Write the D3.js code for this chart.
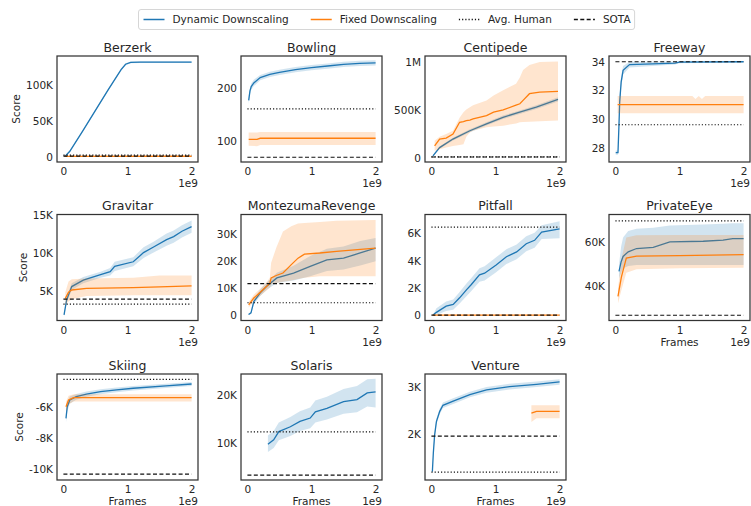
<!DOCTYPE html>
<html lang="en">
<head>
<meta charset="utf-8">
<title>Dynamic vs Fixed Downscaling</title>
<script src="https://cdn.jsdelivr.net/npm/d3@7"></script>
<style>
  body { margin: 0; background: #fff; }
  svg text { font-family: "DejaVu Sans", sans-serif; fill: #262626; }
  .frame { fill: none; stroke: #333; stroke-width: 1.25px; }
  .run-line { fill: none; stroke-width: 1.3px; }
  .ref-line { fill: none; stroke: #111; stroke-width: 1.2px; }
</style>
</head>
<body>
<svg id="chart" width="751" height="506"></svg>
<script>

// x in 1e9 frames, rows are [x, mean, low, high]
var berzerkDyn = [[0.02,500,0,1000],[0.1,8000,6500,9500],[0.3,36000,34500,37500],[0.5,65000,63500,66500],[0.7,94000,92500,95500],[0.9,122000,120500,123500],[0.97,129500,128000,131000],[1.05,132000,130800,133200],[1.2,132500,131300,133700],[2.0,132500,131300,133700]];
var berzerkFix = [[0.02,800,300,1300],[2.0,1000,500,1500]];

var bowlingDyn = [[0.02,177,170,184],[0.04,195,189,201],[0.06,203,197,209],[0.1,210,204,216],[0.2,220,215,225],[0.35,226,221,231],[0.5,230,225,235],[0.75,235,230,240],[1.0,239,234,244],[1.25,242,237,247],[1.5,245,240,250],[1.75,247,242,252],[2.0,248,243,253]];
var bowlingFix = [[0.02,103,91,116],[0.15,103,90,116],[0.2,105,92,117],[2.0,105,92,117]];

var centipedeDyn = [[0.024,21000,12000,30000],[0.128,108000,96000,120000],[0.336,197000,183000,211000],[0.6,284000,268000,300000],[0.86,355000,338000,372000],[1.117,424000,406000,442000],[1.377,477000,458000,496000],[1.637,530000,510000,550000],[1.975,610000,588000,632000]];
var centipedeFix = [[0.05,126000,74000,179000],[0.128,197000,90000,220000],[0.23,207000,110000,250000],[0.337,250000,126000,284000],[0.44,372000,135000,420000],[0.5,380000,144000,477000],[0.545,390000,220000,505000],[0.6,395000,266000,530000],[0.65,407000,285000,550000],[0.86,442000,319000,600000],[0.97,477000,328000,650000],[1.12,502000,337000,705000],[1.32,550000,360000,775000],[1.38,565000,372000,840000],[1.43,600000,375000,916000],[1.53,670000,378000,968000],[1.69,687000,382000,1000000],[1.975,695000,390000,1005000]];

var freewayDyn = [[0.005,27.65,27.5,27.8],[0.04,27.65,27.5,27.8],[0.055,29.5,29.0,30.0],[0.067,31.2,30.7,31.7],[0.09,32.6,32.2,33.0],[0.12,33.4,33.1,33.7],[0.22,33.8,33.6,34.0],[0.58,33.85,33.7,34.0],[0.93,33.9,33.8,34.0],[1.0,33.97,33.9,34.05],[2.0,34.0,33.95,34.05]];
var freewayFix = [[0.035,31.0,30.4,31.6],[1.2,31.0,30.4,31.6],[1.25,31.0,30.4,31.4],[1.3,31.0,30.4,31.6],[1.35,31.0,30.4,31.4],[1.4,31.0,30.4,31.6],[2.0,31.0,30.4,31.6]];

var gravitarDyn = [[0.01,1950,1700,2200],[0.05,3900,3500,4300],[0.13,5650,5200,6100],[0.31,6500,6100,6900],[0.58,7200,6800,7600],[0.73,7600,7100,8100],[0.8,8300,7700,8900],[1.09,8900,8300,9500],[1.25,10100,9400,10800],[1.4,10800,10100,11500],[1.61,11800,11000,12600],[1.72,12200,11400,13000],[1.85,12900,12100,13700],[2.0,13500,12700,14300]];
var gravitarFix = [[0.03,4100,3300,4900],[0.08,4900,3700,6300],[0.13,5200,4000,6600],[0.36,5400,4400,6700],[1.09,5500,4500,6800],[1.5,5600,4500,7100],[2.0,5750,4500,7100]];

var montezumaDyn = [[0.018,400,200,600],[0.056,1000,600,1400],[0.1,5200,4200,6200],[0.2,8400,7200,9600],[0.3,10800,9500,12100],[0.46,13900,12000,15800],[0.72,15700,13000,18400],[0.98,18200,14500,22000],[1.24,20600,16500,24700],[1.5,21200,17000,25500],[1.76,23100,18500,27500],[2.0,24900,20100,28600]];
var montezumaFix = [[0.02,4000,3000,5000],[0.1,6500,5300,7700],[0.2,8600,7300,9900],[0.3,10800,9300,12300],[0.35,12000,10300,14000],[0.37,13900,11500,19500],[0.45,14800,12000,25000],[0.555,15700,12500,31000],[0.685,18800,13000,33000],[0.79,21200,13500,34000],[0.89,22700,14000,34200],[1.13,23100,14500,34500],[1.39,23700,14500,35000],[2.0,24900,14500,35300]];

var pitfallDyn = [[0.025,0,0,0],[0.078,200,0,500],[0.23,660,300,1000],[0.34,780,400,1150],[0.44,1270,850,1700],[0.55,1870,1400,2350],[0.62,2230,1750,2700],[0.75,2960,2450,3450],[0.83,3080,2550,3600],[1.01,3690,3150,4250],[1.17,4290,3750,4850],[1.33,4650,4100,5200],[1.48,5250,4700,5800],[1.61,5500,4950,6050],[1.72,6100,5600,6600],[2.0,6350,5650,6900]];
var pitfallFix = [[0.02,0,0,0],[2.0,0,0,0]];

var privateEyeDyn = [[0.056,46600,43500,49800],[0.09,51000,46000,58000],[0.12,53400,48000,62000],[0.2,55500,49000,65000],[0.33,57000,49500,66000],[0.59,57500,49500,66500],[0.85,60000,49500,67500],[1.37,60300,49500,68000],[1.68,60800,49500,68300],[1.83,61500,49500,68500],[2.0,61500,49500,68500]];
var privateEyeFix = [[0.04,35200,32000,38500],[0.093,44000,38000,52000],[0.17,52600,46000,62000],[0.33,53500,47500,63000],[1.0,53800,48000,63200],[2.0,54200,48200,63200]];

var skiingDyn = [[0.04,-6740,-7000,-6400],[0.06,-6000,-6300,-5700],[0.1,-5570,-5800,-5350],[0.2,-5360,-5550,-5180],[0.36,-5200,-5370,-5030],[0.58,-5040,-5200,-4880],[0.83,-4930,-5080,-4780],[1.09,-4820,-4960,-4680],[1.6,-4670,-4800,-4540],[2.0,-4550,-4680,-4420]];
var skiingFix = [[0.04,-6000,-6300,-5700],[0.08,-5570,-5850,-5300],[0.16,-5420,-5670,-5200],[2.0,-5420,-5670,-5200]];

var solarisDyn = [[0.32,9800,8200,11600],[0.41,10700,9000,12500],[0.49,12400,10600,14300],[0.67,13400,11500,15400],[0.82,14500,12500,16600],[0.98,15200,13100,17400],[1.06,16500,14300,18800],[1.24,17200,14900,19600],[1.5,18600,16100,21200],[1.71,19000,16400,21800],[1.87,20400,17600,23200],[2.0,20600,17400,23300]];
var solarisFix = [];

var ventureDyn = [[0.015,1200,1150,1250],[0.03,1600,1550,1650],[0.05,1980,1920,2040],[0.078,2270,2210,2330],[0.13,2490,2430,2550],[0.18,2620,2560,2680],[0.34,2710,2650,2770],[0.6,2850,2790,2910],[0.86,2950,2890,3010],[1.22,3020,2960,3080],[1.64,3070,3010,3130],[2.0,3120,3060,3180]];
var ventureFix = [[1.56,2450,2260,2620],[1.64,2490,2340,2620],[2.0,2490,2340,2620]];

var gameNames = ["Berzerk","Bowling","Centipede","Freeway","Gravitar","MontezumaRevenge","Pitfall","PrivateEye","Skiing","Solaris","Venture"];
var dynamicRuns = [berzerkDyn, bowlingDyn, centipedeDyn, freewayDyn, gravitarDyn, montezumaDyn, pitfallDyn, privateEyeDyn, skiingDyn, solarisDyn, ventureDyn];
var fixedRuns = [berzerkFix, bowlingFix, centipedeFix, freewayFix, gravitarFix, montezumaFix, pitfallFix, privateEyeFix, skiingFix, solarisFix, ventureFix];
var humanScores = [2630, 160.7, 12017, 29.6, 3351, 4753, 6464, 69571, -4250, 12327, 1187.5];
var sotaScores = [1200, 69, 10000, 34.0, 4000, 11800, 0, 26600, -10300, 3400, 1960];
var yDomains = [[-7000,141000],[60,261],[-42000,1063000],[27.0,34.4],[1200,15100],[-1800,37300],[-400,7400],[24200,72500],[-10680,-3910],[2400,24300],[1020,3290]];
var yTicks = [[0,50000,100000],[100,200],[0,500000,1000000],[28,30,32,34],[5000,10000,15000],[0,10000,20000,30000],[0,2000,4000,6000],[40000,60000],[-10000,-8000,-6000],[10000,20000],[2000,3000]];
var xTicks = [0, 1, 2];
var xRange = [-0.1, 2.1];
var legendLabels = ["Dynamic Downscaling", "Fixed Downscaling", "Avg. Human", "SOTA"];

var blue = "#1f77b4", orange = "#ff7f0e";

var svg = d3.select("#chart");
var colLeft = [57, 241, 425, 609],
    rowTop = [56, 214.5, 374],
    pw = 141, ph = 106;

function fmtScore(v) {
  var a = Math.abs(v);
  if (a >= 1e6) return (v / 1e6) + "M";
  if (a >= 1000) return (v / 1000) + "K";
  return String(v);
}

var x = d3.scaleLinear().domain(xRange).range([0, pw]);

gameNames.forEach(function(name, i) {
  var col = i % 4, row = Math.floor(i / 4);
  var g = svg.append("g").attr("transform", "translate(" + colLeft[col] + "," + rowTop[row] + ")");
  var y = d3.scaleLinear().domain(yDomains[i]).range([ph, 0]);

  g.append("clipPath").attr("id", "clip" + i)
    .append("rect").attr("width", pw).attr("height", ph);
  var plot = g.append("g").attr("clip-path", "url(#clip" + i + ")");

  var area = d3.area().x(function(d) { return x(d[0]); })
    .y0(function(d) { return y(d[2]); }).y1(function(d) { return y(d[3]); });
  var line = d3.line().x(function(d) { return x(d[0]); }).y(function(d) { return y(d[1]); });

  [[dynamicRuns[i], blue], [fixedRuns[i], orange]].forEach(function(s) {
    if (!s[0].length) return;
    plot.append("path").attr("d", area(s[0])).attr("fill", s[1]).attr("fill-opacity", 0.2);
    plot.append("path").attr("class", "run-line").attr("d", line(s[0])).attr("stroke", s[1]);
  });

  plot.append("line").attr("class", "ref-line")
    .attr("x1", x(0)).attr("x2", x(2)).attr("y1", y(humanScores[i])).attr("y2", y(humanScores[i]))
    .attr("stroke-dasharray", "1.2,2");
  plot.append("line").attr("class", "ref-line")
    .attr("x1", x(0)).attr("x2", x(2)).attr("y1", y(sotaScores[i])).attr("y2", y(sotaScores[i]))
    .attr("stroke-dasharray", "4,2.4");

  var yAxis = g.append("g")
    .call(d3.axisLeft(y).tickValues(yTicks[i]).tickFormat(fmtScore).tickSize(0).tickPadding(4));
  var xAxis = g.append("g").attr("transform", "translate(0," + ph + ")")
    .call(d3.axisBottom(x).tickValues(xTicks).tickFormat(d3.format("d")).tickSize(0).tickPadding(6));
  [yAxis, xAxis].forEach(function(a) {
    a.select(".domain").remove();
    a.selectAll("text").style("font-size", "10.5px").attr("fill", "#262626");
  });

  g.append("rect").attr("class", "frame").attr("width", pw).attr("height", ph);

  g.append("text").attr("x", pw / 2).attr("y", -4.3).attr("text-anchor", "middle")
    .style("font-size", "12.5px").text(name);

  g.append("text").attr("x", pw).attr("y", ph + 25.3).attr("text-anchor", "end")
    .style("font-size", "10.5px").text("1e9");

  if (i + 4 >= gameNames.length) {
    g.append("text").attr("x", pw / 2).attr("y", ph + 25.3).attr("text-anchor", "middle")
      .style("font-size", "10.5px").text("Frames");
  }

  if (col === 0) {
    var maxW = d3.max(yAxis.selectAll("text").nodes(), function(n) { return n.getComputedTextLength(); });
    g.append("text").attr("transform", "translate(" + (-4 - maxW - 6) + "," + (ph / 2) + ") rotate(-90)")
      .attr("text-anchor", "middle").style("font-size", "10.5px").text("Score");
  }
});

// legend
var legend = svg.append("g");
var box = legend.append("rect").attr("x", 138.5).attr("y", 9.5).attr("height", 20).attr("rx", 2.5)
  .attr("fill", "#fff").attr("stroke", "#ccc").attr("stroke-width", 0.8);
var styles = [
  {stroke: blue, dash: null},
  {stroke: orange, dash: null},
  {stroke: "#111", dash: "1.2,2"},
  {stroke: "#111", dash: "4,2.4"}
];
var cx = 143.5;
legendLabels.forEach(function(lab, k) {
  legend.append("line").attr("x1", cx).attr("x2", cx + 21).attr("y1", 19.5).attr("y2", 19.5)
    .attr("stroke", styles[k].stroke).attr("stroke-width", 1.5)
    .attr("stroke-dasharray", styles[k].dash);
  var t = legend.append("text").attr("x", cx + 29).attr("y", 23.3)
    .style("font-size", "10.5px").text(lab);
  cx += 29 + t.node().getComputedTextLength() + 22;
});
box.attr("width", cx - 22 + 4 - 138.5);

</script>
</body>
</html>
